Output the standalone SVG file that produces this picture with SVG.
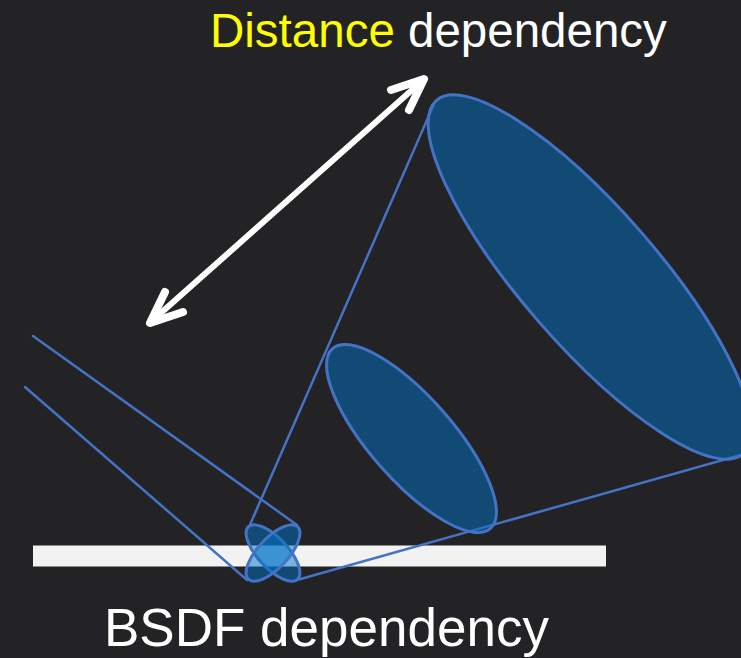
<svg xmlns="http://www.w3.org/2000/svg" width="741" height="658" viewBox="0 0 741 658">
<style>
.ell{fill:rgb(0,116,198);fill-opacity:0.5;stroke:#4472c4;stroke-width:3}
.ln{stroke:#4472c4;stroke-width:2.5;fill:none;stroke-linecap:round}
.arr{stroke:#ffffff;fill:none;stroke-linecap:round;stroke-linejoin:round}
.lbl{font-family:"Liberation Sans",Arial,sans-serif;fill:#ffffff}
</style>
<rect x="0" y="0" width="741" height="658" fill="#232325"/>
<g id="surface">
<rect x="33" y="545.5" width="573" height="21" fill="#f2f2f2"/>
</g>
<g id="connectors">
<line class="ln" x1="33" y1="336" x2="297" y2="525"/>
<line class="ln" x1="25" y1="387" x2="247" y2="580"/>
<line class="ln" x1="249" y1="527" x2="434" y2="104"/>
<line class="ln" x1="297" y1="580" x2="741" y2="455"/>
</g>
<g id="lobe-far">
<ellipse class="ell" cx="590" cy="277" rx="234" ry="68" transform="rotate(49 590 277)"/>
</g>
<g id="lobe-near">
<ellipse class="ell" cx="411.5" cy="438.5" rx="119.7" ry="41.6" transform="rotate(48.7 411.5 438.5)"/>
</g>
<g id="bsdf">
<ellipse class="ell" cx="273" cy="553" rx="36" ry="15" transform="rotate(47 273 553)"/>
<ellipse class="ell" cx="273" cy="553" rx="36" ry="15" transform="rotate(-47 273 553)"/>
</g>
<g id="distance-arrow">
<line class="arr" stroke-width="6" x1="153" y1="320" x2="421" y2="82"/>
<polyline class="arr" stroke-width="8" points="165,292 150,323 183,312"/>
<polyline class="arr" stroke-width="8" points="409,110 424,79 391,90"/>
</g>
<g id="title">
<text class="lbl" x="210" y="47" font-size="47.5"><tspan fill="#ffff00">Distance</tspan> dependency</text>
</g>
<g id="caption">
<text class="lbl" x="104" y="646" font-size="53">BSDF dependency</text>
</g>
</svg>
